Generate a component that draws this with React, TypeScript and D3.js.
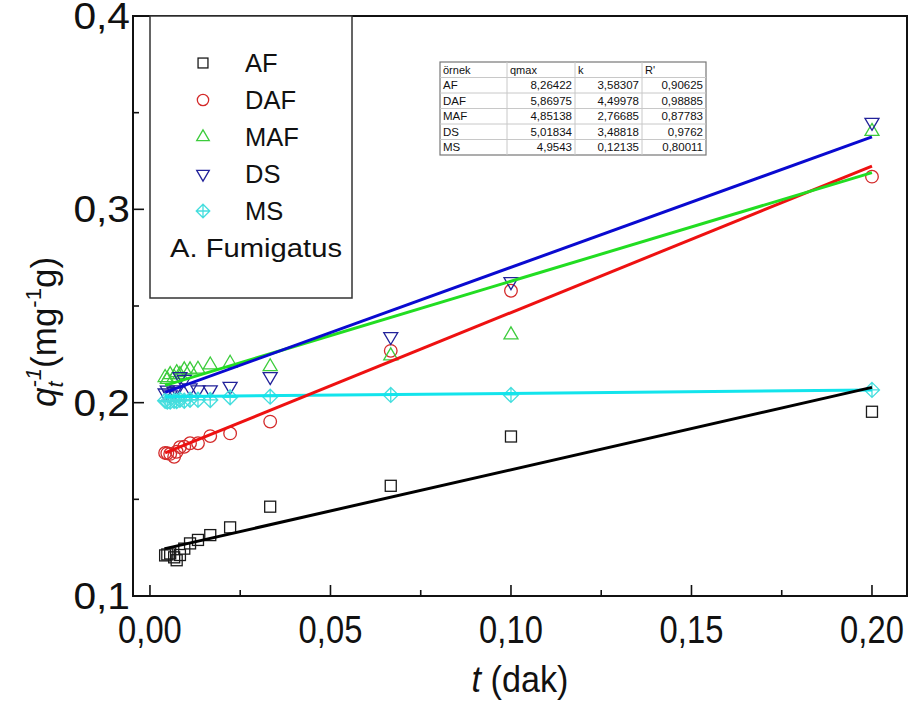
import React from "react";
import * as d3 from "d3";

const W = 911;
const H = 709;

// x = 1/t (dak^-1)
const xValues = [0.2, 0.1, 0.0667, 0.0333, 0.0222, 0.0167, 0.0133, 0.0111, 0.0095, 0.0083, 0.0074, 0.0067, 0.0056, 0.0048, 0.0042];
const seriesNames = ["AF", "DAF", "MAF", "DS", "MS"];
const afValues = [0.1953, 0.1825, 0.157, 0.1462, 0.1355, 0.1315, 0.129, 0.1272, 0.1245, 0.1212, 0.1185, 0.12, 0.122, 0.1215, 0.121];
const dafValues = [0.3169, 0.2579, 0.2268, 0.1902, 0.1841, 0.1827, 0.179, 0.179, 0.1772, 0.177, 0.1746, 0.172, 0.1735, 0.1738, 0.174];
const mafValues = [0.3403, 0.2351, 0.2242, 0.2186, 0.2204, 0.2195, 0.2173, 0.217, 0.217, 0.2145, 0.2155, 0.213, 0.2145, 0.212, 0.213];
const dsValues = [0.345, 0.2626, 0.2342, 0.2135, 0.2084, 0.2066, 0.2066, 0.2076, 0.212, 0.2135, 0.2066, 0.2057, 0.204, 0.2065, 0.205];
const msValues = [0.2066, 0.204, 0.204, 0.2031, 0.2028, 0.2014, 0.2015, 0.2015, 0.201, 0.2015, 0.2008, 0.201, 0.2005, 0.2005, 0.201];
const fitIntercepts = [0.1227, 0.1708, 0.2066, 0.2025, 0.203];
const fitSlopes = [0.426, 0.758, 0.562, 0.675, 0.018];

const xTicks = [0, 0.05, 0.1, 0.15, 0.2];
const xMinorTicks = [0.025, 0.075, 0.125, 0.175];
const yTicks = [0.1, 0.2, 0.3, 0.4];
const yMinorTicks = [0.15, 0.25, 0.35];

const tableHeader = ["örnek", "qmax", "k", "R'"];
const tableQmax = ["8,26422", "5,86975", "4,85138", "5,01834", "4,9543"];
const tableK = ["3,58307", "4,49978", "2,76685", "3,48818", "0,12135"];
const tableR = ["0,90625", "0,98885", "0,87783", "0,9762", "0,80011"];

const legendTitle = "A. Fumigatus";

const markerColors = ["#1a1a1a", "#d42a2a", "#3ccc3c", "#22229a", "#44dede"];
const lineColors = ["#000000", "#ee1111", "#22dd22", "#0a0ad0", "#12e4ec"];
const markerTypes = ["square", "circle", "up", "down", "diamond"];

const FONT = "'Liberation Sans', Arial, sans-serif";

const margin = { left: 133, right: 4, top: 16, bottom: 113 };
const x = d3.scaleLinear().domain([-0.0047, 0.2097]).range([margin.left, W - margin.right]);
const y = d3.scaleLinear().domain([0.1, 0.4]).range([H - margin.bottom, margin.top]);

const fmt = (v: number, d: number) => v.toFixed(d).replace(".", ",");

function Marker({ type, cx, cy, color, s = 1 }: { type: string; cx: number; cy: number; color: string; s?: number }) {
  const common = { fill: "none", stroke: color, strokeWidth: 1.3 };
  if (type === "square") {
    const a = 5.5 * s;
    return <rect x={cx - a} y={cy - a} width={2 * a} height={2 * a} {...common} />;
  }
  if (type === "circle") {
    return <circle cx={cx} cy={cy} r={6.3 * s} {...common} />;
  }
  if (type === "up" || type === "down") {
    const hw = 7 * s;
    const h = 12 * s;
    const sg = type === "up" ? 1 : -1;
    const p = `M${cx},${cy - sg * (2 * h) / 3} L${cx + hw},${cy + sg * h / 3} L${cx - hw},${cy + sg * h / 3} Z`;
    return <path d={p} {...common} />;
  }
  const r = 7.5 * s;
  const p = `M${cx},${cy - r} L${cx + r},${cy} L${cx},${cy + r} L${cx - r},${cy} Z M${cx - r},${cy} L${cx + r},${cy} M${cx},${cy - r} L${cx},${cy + r}`;
  return <path d={p} {...common} />;
}

export default function App() {
  const allValues = [afValues, dafValues, mafValues, dsValues, msValues];
  const xMin = d3.min(xValues) as number;
  const xMax = d3.max(xValues) as number;
  const line = d3.line<[number, number]>().x((d) => x(d[0])).y((d) => y(d[1]));

  const plotL = x.range()[0];
  const plotR = x.range()[1];
  const plotT = y.range()[1];
  const plotB = y.range()[0];

  // table layout
  const tX = 440;
  const tY = 62;
  const rowH = 15.5;
  const colW = [67, 68, 67, 64];
  const colX = colW.reduce((acc: number[], w, i) => { acc.push(i === 0 ? tX : acc[i - 1] + colW[i - 1]); return acc; }, []);
  const tW = d3.sum(colW);
  const rows = seriesNames.map((n, i) => [n, tableQmax[i], tableK[i], tableR[i]]);

  const legX = 150, legY = plotT, legW = 202, legH = 282;

  return (
    <svg width={W} height={H} style={{ position: "absolute", left: 0, top: 0, background: "#fff" }} fontFamily={FONT}>
      <rect x={0} y={0} width={W} height={H} fill="#fff" />

      {/* markers */}
      {allValues.map((vals, si) => (
        <g key={"m" + si}>
          {vals.map((v, i) => (
            <Marker key={i} type={markerTypes[si]} cx={x(xValues[i])} cy={y(v)} color={markerColors[si]} />
          ))}
        </g>
      ))}

      {/* fitted lines */}
      {[4, 0, 1, 2, 3].map((si) => {
        const pts: [number, number][] = [
          [xMin, fitIntercepts[si] + fitSlopes[si] * xMin],
          [xMax, fitIntercepts[si] + fitSlopes[si] * xMax],
        ];
        return <path key={"l" + si} d={line(pts) as string} fill="none" stroke={lineColors[si]} strokeWidth={3} />;
      })}

      {/* frame */}
      <rect x={plotL} y={plotT} width={plotR - plotL} height={plotB - plotT} fill="none" stroke="#111" strokeWidth={2} />

      {/* x ticks */}
      {xTicks.map((t) => (
        <g key={"xt" + t}>
          <line x1={x(t)} x2={x(t)} y1={plotB} y2={plotB - 11} stroke="#111" strokeWidth={1.6} />
          <text transform={`translate(${x(t)},${plotB + 47}) scale(0.84,1)`} textAnchor="middle" fontSize={39} fill="#111">{fmt(t, 2)}</text>
        </g>
      ))}
      {xMinorTicks.map((t) => (
        <line key={"xm" + t} x1={x(t)} x2={x(t)} y1={plotB} y2={plotB - 6} stroke="#111" strokeWidth={1.6} />
      ))}

      {/* y ticks */}
      {yTicks.map((t) => (
        <g key={"yt" + t}>
          <line x1={plotL} x2={plotL + 11} y1={y(t)} y2={y(t)} stroke="#111" strokeWidth={1.6} />
          <text transform={`translate(${plotL - 3},${y(t) + 13}) scale(1.1,1)`} textAnchor="end" fontSize={37} fill="#111">{fmt(t, 1)}</text>
        </g>
      ))}
      {yMinorTicks.map((t) => (
        <line key={"ym" + t} x1={plotL} x2={plotL + 6} y1={y(t)} y2={y(t)} stroke="#111" strokeWidth={1.6} />
      ))}

      {/* x title */}
      <text transform={`translate(${(plotL + plotR) / 2},${H - 17}) scale(0.95,1)`} textAnchor="middle" fontSize={36} fill="#111">
        <tspan fontStyle="italic">t</tspan>
        <tspan> (dak)</tspan>
      </text>

      {/* y title */}
      <text transform={`translate(56,${(plotT + plotB) / 2 + 26}) rotate(-90)`} textAnchor="middle" fontSize={35} fill="#111">
        <tspan fontStyle="italic">q</tspan>
        <tspan fontStyle="italic" fontSize={22} dy={7}>t</tspan>
        <tspan fontStyle="italic" fontSize={22} dx={-6} dy={-22}>-1</tspan>
        <tspan dy={15}>(mg</tspan>
        <tspan fontSize={22} dy={-15}>-1</tspan>
        <tspan dy={15}>g)</tspan>
      </text>

      {/* legend */}
      <rect x={legX} y={legY} width={legW} height={legH} fill="#fff" stroke="#333" strokeWidth={1.5} />
      {seriesNames.map((n, i) => {
        const cy = legY + 47 + i * 37;
        return (
          <g key={"lg" + n}>
            <Marker type={markerTypes[i]} cx={203} cy={cy} color={markerColors[i]} s={0.9} />
            <text x={245} y={cy + 9} fontSize={25.5} fill="#111">{n}</text>
          </g>
        );
      })}
      <text x={170} y={legY + 47 + 5 * 37 + 9} fontSize={25.5} textLength={172} lengthAdjust="spacingAndGlyphs" fill="#111">{legendTitle}</text>

      {/* table */}
      <rect x={tX} y={tY} width={tW} height={rowH * 6} fill="#fff" stroke="#777" strokeWidth={1.2} />
      {d3.range(1, 6).map((r) => (
        <line key={"tr" + r} x1={tX} x2={tX + tW} y1={tY + r * rowH} y2={tY + r * rowH} stroke="#c8c8c8" strokeWidth={1} />
      ))}
      {colX.slice(1).map((cx, i) => (
        <line key={"tc" + i} x1={cx} x2={cx} y1={tY} y2={tY + rowH * 6} stroke="#c8c8c8" strokeWidth={1} />
      ))}
      {tableHeader.map((h, c) => (
        <text key={"th" + c} x={colX[c] + 3} y={tY + rowH - 4} fontSize={11} fill="#111">{h}</text>
      ))}
      {rows.map((row, r) =>
        row.map((cell, c) => (
          <text
            key={"td" + r + "-" + c}
            x={c === 0 ? colX[c] + 3 : colX[c] + colW[c] - 3}
            y={tY + (r + 2) * rowH - 4}
            textAnchor={c === 0 ? "start" : "end"}
            fontSize={11.5}
            fill="#111"
          >
            {cell}
          </text>
        ))
      )}
    </svg>
  );
}
